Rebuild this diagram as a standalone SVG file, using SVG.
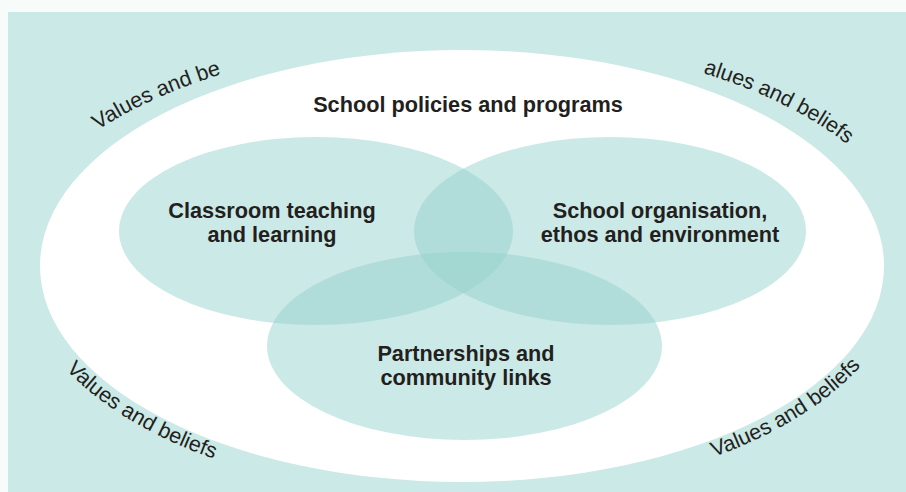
<svg xmlns="http://www.w3.org/2000/svg" width="906" height="492" viewBox="0 0 906 492">
<style>
.lbl{font-family:"Liberation Sans",Arial,sans-serif;font-weight:bold;font-size:21.7px;fill:#231f20;text-anchor:middle}
.arc{font-family:"Liberation Sans",Arial,sans-serif;font-size:21.5px;fill:#231f20}
.venn{fill:#93d1cb;fill-opacity:0.48}
</style>
<defs>
<path id="pTL" d="M 98 130 A 455 226 0 0 1 300 55" fill="none"/>
<path id="pTR" d="M 703 73 A 455 226 0 0 1 917 266" fill="none"/>
<path id="pBL" d="M 66 369.5 A 442 233 0 0 0 462 499" fill="none"/>
<path id="pBR" d="M 714 457 A 442 233 0 0 0 904 266" fill="none"/>
</defs>
<rect x="0" y="0" width="906" height="492" fill="#f7fbfa"/>
<rect x="8" y="12" width="898" height="480" fill="#cbe9e6"/>
<g id="outer">
<ellipse cx="462" cy="266" rx="422" ry="216" fill="#ffffff"/>
<text class="lbl" x="468" y="112">School policies and programs</text>
<text class="arc"><textPath href="#pTL">Values and be</textPath></text>
<text class="arc"><textPath href="#pTR">alues and beliefs</textPath></text>
<text class="arc"><textPath href="#pBL">Values and beliefs</textPath></text>
<text class="arc"><textPath href="#pBR">Values and beliefs</textPath></text>
</g>
<g id="classroom">
<ellipse class="venn" cx="316" cy="231" rx="197" ry="94"/>
</g>
<g id="organisation">
<ellipse class="venn" cx="610" cy="231" rx="196" ry="94"/>
</g>
<g id="partnerships">
<ellipse class="venn" cx="464.5" cy="346" rx="197.5" ry="94"/>
</g>
<g id="labels">
<text class="lbl" x="272" y="218">Classroom teaching</text>
<text class="lbl" x="272" y="242">and learning</text>
<text class="lbl" x="660" y="218">School organisation,</text>
<text class="lbl" x="660" y="242">ethos and environment</text>
<text class="lbl" x="466" y="361">Partnerships and</text>
<text class="lbl" x="466" y="385">community links</text>
</g>
</svg>
